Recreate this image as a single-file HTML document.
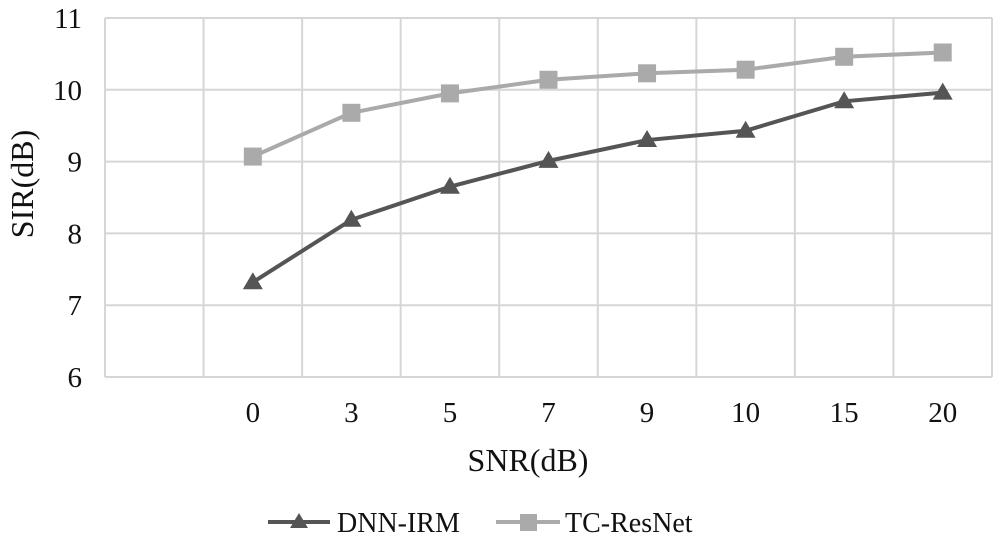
<!DOCTYPE html>
<html><head><meta charset="utf-8"><style>
body{margin:0;background:#fff;}
svg text{font-family:"Liberation Serif",serif;fill:#111;}
</style></head><body>
<svg id="chart" width="1001" height="550" xmlns="http://www.w3.org/2000/svg">
<g id="grid"></g>
<g id="series"></g>
<g id="labels"></g>
<text x="528" y="471" font-size="32" text-anchor="middle">SNR(dB)</text>
<text x="0" y="0" font-size="32" text-anchor="middle" transform="translate(33,184) rotate(-90)">SIR(dB)</text>
<g>
<g>
<line x1="268" y1="522" x2="330" y2="522" stroke="#555" stroke-width="4"/>
<polygon points="299,513 308,528 290,528" fill="#555"/>
<text x="337" y="532" font-size="28">DNN-IRM</text></g>
<g>
<line x1="496" y1="522" x2="560" y2="522" stroke="#aaa" stroke-width="4"/>
<rect x="520" y="514" width="17" height="17" fill="#aaa"/>
<text x="565" y="532" font-size="28">TC-ResNet</text></g>
</g>
</svg>
<script>
const categories = ["", "0", "3", "5", "7", "9", "10", "15", "20"];
const dnnIrm = [null, 7.32, 8.19, 8.65, 9.01, 9.30, 9.43, 9.84, 9.96];
const tcResNet = [null, 9.07, 9.68, 9.95, 10.14, 10.23, 10.28, 10.46, 10.52];
const yTicks = [6, 7, 8, 9, 10, 11];

const NS = "http://www.w3.org/2000/svg";
const L = 105, R = 992, T = 18, B = 377;
const band = (R - L) / categories.length;
const xPos = i => L + band * (i + 0.5);
const yPos = v => B - (v - 6) / 5 * (B - T);
function mk(tag, attrs, parent) {
  const e = document.createElementNS(NS, tag);
  for (const k in attrs) e.setAttribute(k, attrs[k]);
  parent.appendChild(e); return e;
}
const grid = document.getElementById('grid');
const labels = document.getElementById('labels');
const series = document.getElementById('series');
yTicks.forEach(v => {
  const y = yPos(v);
  const g = mk('line', {x1: L, x2: R, y1: y, y2: y, stroke: '#d6d6d6', 'stroke-width': 2}, grid);
  
  
  const t = mk('text', {x: 82, y: y + 10, 'font-size': 29, 'text-anchor': 'end'}, labels);
  t.textContent = v;
  
  
});
for (let i = 0; i <= categories.length; i++) {
  const x = L + band * i;
  const g = mk('line', {x1: x, x2: x, y1: T, y2: B, stroke: '#d6d6d6', 'stroke-width': 2}, grid);
  
  
}
categories.forEach((c, i) => {
  if (!c) return;
  const t = mk('text', {x: xPos(i), y: 422, 'font-size': 29, 'text-anchor': 'middle'}, labels);
  t.textContent = c;
  
  
});
function drawSeries(data, color, marker, name) {
  const pts = [];
  data.forEach((v, i) => { if (v !== null) pts.push([xPos(i), yPos(v)]); });
  const pl = mk('polyline', {points: pts.map(p => p.join(',')).join(' '), fill: 'none', stroke: color, 'stroke-width': 4}, series);
  
  
  pts.forEach(([x, y]) => {
    let m;
    if (marker === 'tri') m = mk('polygon', {points: `${x},${y-10} ${x+10},${y+7} ${x-10},${y+7}`, fill: color}, series);
    else m = mk('rect', {x: x - 9, y: y - 9, width: 18, height: 18, fill: color}, series);
    
    
  });
}
drawSeries(tcResNet, '#aaa', 'sq', 'tc-resnet');
drawSeries(dnnIrm, '#555', 'tri', 'dnn-irm');
</script>
</body></html>
